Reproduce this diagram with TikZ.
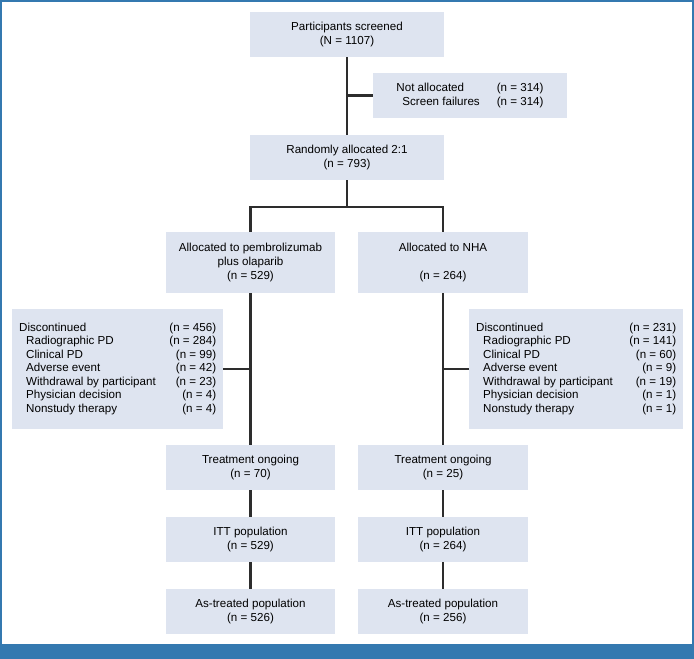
\documentclass[tikz,border=0pt]{standalone}
\usepackage{fontspec}
\setmainfont{Liberation Sans}
\usetikzlibrary{calc}
\definecolor{boxfill}{RGB}{222,228,240}
\definecolor{frameblue}{RGB}{52,121,176}
\definecolor{linkgray}{RGB}{45,45,45}
\newcommand{\reasonindent}{\hspace*{7pt}}

\begin{document}
\begin{tikzpicture}[x=1pt, y=-1pt,
		box/.style={fill=boxfill, align=center, minimum width=169pt, minimum height=45pt, inner sep=0pt, font=\fontsize{11.6}{14.5}\selectfont},
		widebox/.style={box, minimum width=194pt},
		reasonbox/.style={fill=boxfill, anchor=north west, minimum height=120pt, inner xsep=7pt, inner ysep=0pt, font=\fontsize{11.6}{13.5}\selectfont},
		link/.style={line width=2.2pt, color=linkgray}]
			%%%%% START %%%%%
			\useasboundingbox (0, 0) rectangle (694, 659);
			
			% frame
			\fill[frameblue] (0, 0) rectangle (2, 659);
			\fill[frameblue] (0, 0) rectangle (694, 1.5);
			\fill[frameblue] (692, 0) rectangle (694, 659);
			\fill[frameblue] (0, 644) rectangle (694, 659);
			
			% screening
			\node[widebox] (screened) at (347, 34.5) {Participants screened\\(N = 1107)};
			\node[widebox] (notalloc) at (470, 95.5) {\begin{tabular}{@{}l@{\hspace{17pt}}l@{}}Not allocated & (n = 314)\\ \hspace*{6pt}Screen failures & (n = 314)\end{tabular}};
			\node[widebox] (randomised) at (347, 157.5) {Randomly allocated 2:1\\(n = 793)};
			\coordinate (split) at (347, 207);
			
			% arms
			\node[box, minimum height=61pt, font=\fontsize{11.6}{14}\selectfont] (armA) at (250.5, 262.5) {Allocated to pembrolizumab\\plus olaparib\\(n = 529)};
			\node[box, minimum width=170pt, minimum height=61pt, font=\fontsize{11.6}{14}\selectfont] (armB) at (443, 262.5) {Allocated to NHA\\[14pt](n = 264)};
			
			\node[reasonbox] (discA) at (12, 309) {\begin{tabular*}{197pt}{@{}l@{\extracolsep{\fill}}r@{}}
				Discontinued & (n = 456)\\
				\reasonindent Radiographic PD & (n = 284)\\
				\reasonindent Clinical PD & (n = 99)\\
				\reasonindent Adverse event & (n = 42)\\
				\reasonindent Withdrawal by participant & (n = 23)\\
				\reasonindent Physician decision & (n = 4)\\
				\reasonindent Nonstudy therapy & (n = 4)
			\end{tabular*}};
			\node[reasonbox] (discB) at (469, 309) {\begin{tabular*}{200pt}{@{}l@{\extracolsep{\fill}}r@{}}
				Discontinued & (n = 231)\\
				\reasonindent Radiographic PD & (n = 141)\\
				\reasonindent Clinical PD & (n = 60)\\
				\reasonindent Adverse event & (n = 9)\\
				\reasonindent Withdrawal by participant & (n = 19)\\
				\reasonindent Physician decision & (n = 1)\\
				\reasonindent Nonstudy therapy & (n = 1)
			\end{tabular*}};
			
			\node[box] (treatA) at (250.5, 467.5) {Treatment ongoing\\(n = 70)};
			\node[box, minimum width=170pt] (treatB) at (443, 467.5) {Treatment ongoing\\(n = 25)};
			\node[box] (ittA) at (250.5, 539.5) {ITT population\\(n = 529)};
			\node[box, minimum width=170pt] (ittB) at (443, 539.5) {ITT population\\(n = 264)};
			\node[box] (atA) at (250.5, 611.5) {As-treated population\\(n = 526)};
			\node[box, minimum width=170pt] (atB) at (443, 611.5) {As-treated population\\(n = 256)};
			
			% connectors
			\draw[link] (screened.south) -- (randomised.north);
			\draw[link] (notalloc.west) -- (notalloc.west -| screened.south);
			\draw[link] (randomised.south) -- (split);
			\draw[link] (armA.north) |- (split) -| (armB.north);
			
			\draw[link] (armA.south) -- (treatA.north);
			\draw[link] (discA.east) -- (discA.east -| armA.south);
			\draw[link] (armB.south) -- (treatB.north);
			\draw[link] (discB.west) -- (discB.west -| armB.south);
			
			\draw[link] (treatA.south) -- (ittA.north);
			\draw[link] (ittA.south) -- (atA.north);
			\draw[link] (treatB.south) -- (ittB.north);
			\draw[link] (ittB.south) -- (atB.north);
			%%%%% END %%%%%
\end{tikzpicture}
\end{document}
